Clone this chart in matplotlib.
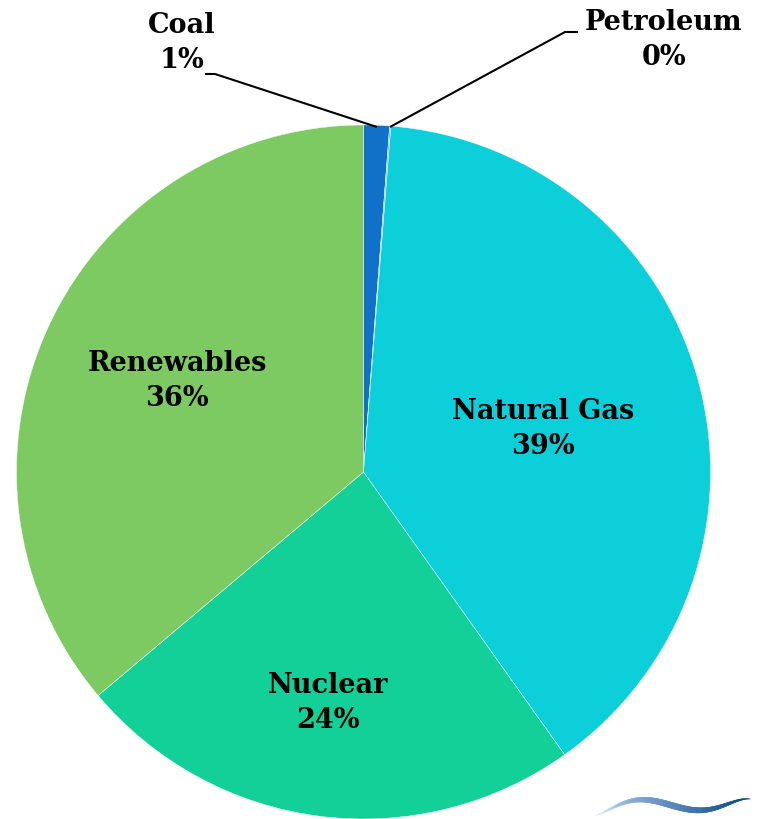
import matplotlib
matplotlib.use("Agg")
import matplotlib.pyplot as plt
import numpy as np
from matplotlib.collections import LineCollection

categories = ["Coal", "Petroleum", "Natural Gas", "Nuclear", "Renewables"]
values = [1.2, 0.06, 38.9, 23.7, 36.14]
pct_labels = ["1%", "0%", "39%", "24%", "36%"]
colors = ["#1170C8", "#5BB8E8", "#0DCFD9", "#13CF98", "#7ECA62"]

W, H = 761, 820
fig = plt.figure(figsize=(W / 100, H / 100), dpi=100)
ax = fig.add_axes([0, 0, 1, 1])

cx, cy, r = 363.5, H - 473, 347
wedges, _ = ax.pie(values, colors=colors, startangle=90, counterclock=False,
                   center=(cx, cy), radius=r, frame=True,
                   wedgeprops=dict(linewidth=0.3, edgecolor="white"))
ax.set_xlim(0, W)
ax.set_ylim(0, H)
ax.set_aspect("equal")
ax.axis("off")

font = dict(family="DejaVu Serif", fontweight="bold", fontsize=19.5,
            ha="center", va="center", linespacing=1.42, color="black")

def Y(p):
    return H - p

pos = {
    "Coal": (182, 43),
    "Petroleum": (664, 40),
    "Natural Gas": (543, 429),
    "Nuclear": (328, 703),
    "Renewables": (177, 381),
}
for cat, pct in zip(categories, pct_labels):
    x, y = pos[cat]
    ax.text(x, Y(y), f"{cat}\n{pct}", **font)

# leader lines
ax.plot([377, 215, 205], [Y(128), Y(75), Y(75)], color="black", lw=1.5, solid_capstyle="butt")
ax.plot([390, 565, 578], [Y(128), Y(33), Y(33)], color="black", lw=1.5, solid_capstyle="butt")

# decorative swoosh logo
ctrl_t = np.array([0.0, 0.15, 0.3, 0.45, 0.62, 0.8, 1.0])
ctrl_y = np.array([817, 806, 801, 804, 811, 808, 800])
coef = np.polyfit(ctrl_t, ctrl_y, 5)
t = np.linspace(0, 1, 150)
xs = 595 + 155 * t
ys = np.polyval(coef, t)
pts = np.array([xs, Y(ys)]).T.reshape(-1, 1, 2)
segs = np.concatenate([pts[:-1], pts[1:]], axis=1)
tm = t[:-1]
widths = 0.4 + 4.2 * np.sin(np.pi * tm) ** 0.9
cols = [(0.70 - 0.68 * s, 0.82 - 0.55 * s, 0.95 - 0.45 * s, 0.25 + 0.75 * min(1, s * 2.2)) for s in tm]
ax.add_collection(LineCollection(segs, linewidths=widths, colors=cols, capstyle="round"))

fig.savefig("out.png", dpi=100)
